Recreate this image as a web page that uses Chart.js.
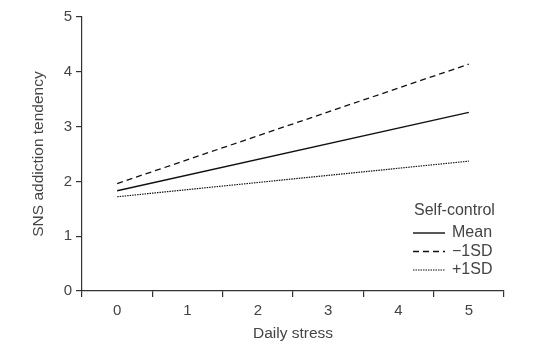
<!DOCTYPE html>
<html>
<head>
<meta charset="utf-8">
<script src="https://cdn.jsdelivr.net/npm/chart.js@4/dist/chart.umd.min.js"></script>
<style>
    html, body { margin: 0; padding: 0; background: #fff; }
    #wrap { width: 542px; height: 359px; }
</style>
</head>
<body>
<div id="wrap"><canvas id="chart_canvas"></canvas></div>
<script>
// values (lines drawn between the end points only)
const stress = ['0', '1', '2', '3', '4', '5']
const mean = [1.83, null, null, null, null, 3.26]
const minusSd = [1.96, null, null, null, null, 4.14]
const plusSd = [1.72, null, null, null, null, 2.37]
const yTicks = [0, 1, 2, 3, 4, 5]

const textColor = '#444'
const fontFamily = "'Liberation Sans', 'Noto Sans', sans-serif"

// legend drawn inside the plot, bottom right
const sdLegend = {
    id: 'sdLegend',
    afterDraw(chart) {
        const ctx = chart.ctx
        ctx.save()
        ctx.font = '16px ' + fontFamily
        ctx.fillStyle = textColor
        ctx.textBaseline = 'middle'
        ctx.fillText('Self-control', 414, 211)
        let y = 233
        chart.data.datasets.forEach(ds => {
            ctx.beginPath()
            ctx.strokeStyle = ds.borderColor
            ctx.lineWidth = ds.borderWidth
            ctx.setLineDash(ds.borderDash || [])
            ctx.moveTo(413, y)
            ctx.lineTo(445, y)
            ctx.stroke()
            ctx.setLineDash([])
            ctx.fillText(ds.label, 452, y)
            y += 18.5
        })
        ctx.restore()
    }
}

const chart = new Chart(document.getElementById('chart_canvas'), {
    type: 'line',
    data: {
        labels: stress,
        datasets: [{
            label: 'Mean',
            data: mean,
            borderColor: '#111',
            borderWidth: 1.4,
            pointRadius: 0,
            spanGaps: true
        }, {
            label: '\u22121SD',
            data: minusSd,
            borderColor: '#111',
            borderWidth: 1.3,
            borderDash: [6, 4],
            pointRadius: 0,
            spanGaps: true
        }, {
            label: '+1SD',
            data: plusSd,
            borderColor: '#111',
            borderWidth: 1.2,
            borderDash: [1.5, 1],
            pointRadius: 0,
            spanGaps: true
        }]
    },
    options: {
        responsive: true,
        maintainAspectRatio: false,
        animation: false,
        layout: { padding: { left: 25, right: 38, top: 17, bottom: 12 } },
        plugins: {
            legend: { display: false },
            tooltip: { enabled: false }
        },
        scales: {
            x: {
                type: 'category',
                offset: true,
                border: { display: true, color: '#333', width: 1.2 },
                grid: { offset: true, drawOnChartArea: false, drawTicks: true, tickLength: 6, color: '#333', lineWidth: 1.2 },
                ticks: { color: textColor, font: { family: fontFamily, size: 15 }, padding: 5, maxRotation: 0 },
                title: { display: true, text: 'Daily stress', color: textColor, font: { family: fontFamily, size: 15.5 }, padding: { top: 4 } },
                afterFit(scale) { scale.height = 56 }
            },
            y: {
                min: 0,
                max: 5,
                afterBuildTicks(scale) { scale.ticks = yTicks.map(v => ({ value: v })) },
                border: { display: true, color: '#333', width: 1.2 },
                grid: { drawOnChartArea: false, drawTicks: true, tickLength: 6, color: '#333', lineWidth: 1.2 },
                ticks: { color: textColor, font: { family: fontFamily, size: 15 }, padding: 4 },
                title: { display: true, text: 'SNS addiction tendency', color: textColor, font: { family: fontFamily, size: 15.5 }, padding: { bottom: 10 } },
                afterFit(scale) { scale.width = 57 }
            }
        }
    },
    plugins: [sdLegend]
})
</script>
</body>
</html>
